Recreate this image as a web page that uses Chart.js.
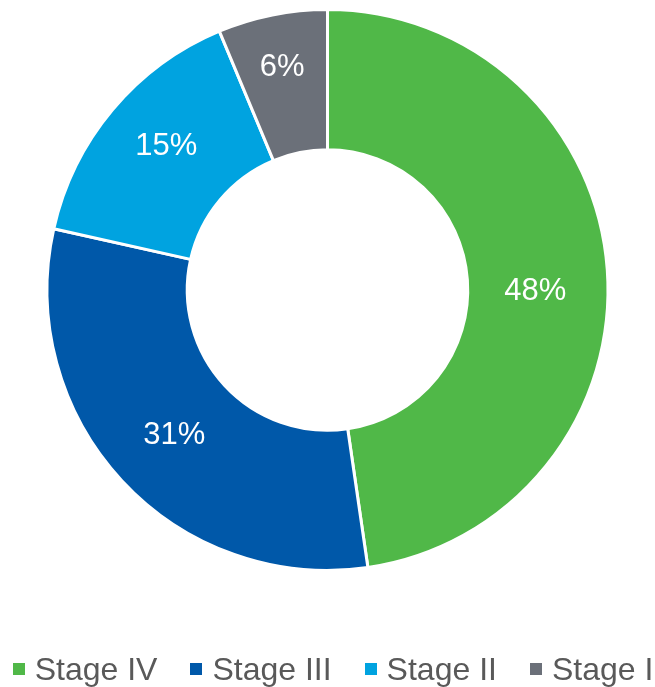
<!DOCTYPE html>
<html>
<head>
<meta charset="utf-8">
<script src="https://cdn.jsdelivr.net/npm/chart.js@4/dist/chart.umd.min.js"></script>
<style>
    body { margin: 0; background: #fff; }
    #wrap { position: relative; width: 655px; height: 687px; }
    #legend {
        position: absolute; left: 0; top: 651px; width: 655px; box-sizing: border-box; padding-left: 11px;
        display: flex; justify-content: center; align-items: center; gap: 33px;
        font-family: "Liberation Sans", Arial, sans-serif; font-size: 32px; line-height: 36px;
        color: #595959; white-space: nowrap;
    }
    .legend-item { display: flex; align-items: center; }
    .legend-box { width: 12px; height: 12px; margin-right: 10px; }
</style>
</head>
<body>
<div id="wrap">
    <canvas id="stageChart"></canvas>
    <div id="legend"></div>
</div>
<script>
const stages = ['Stage IV', 'Stage III', 'Stage II', 'Stage I'];
const shares = [47.7, 30.8, 15.2, 6.3];
const stageColors = ['#50B848', '#0058A9', '#00A3E0', '#6B7079'];

// white percentage labels inside each slice, nudged a little like the original
const sliceLabels = {
    id: 'sliceLabels',
    afterDatasetsDraw(chart, args, opts) {
        const ctx = chart.ctx;
        const meta = chart.getDatasetMeta(0);
        ctx.save();
        ctx.fillStyle = '#ffffff';
        ctx.font = '31px "Liberation Sans", Arial, sans-serif';
        ctx.textAlign = 'center';
        ctx.textBaseline = 'middle';
        meta.data.forEach((arc, i) => {
            const pos = arc.tooltipPosition();
            const nudge = opts.nudges[i] || [0, 0];
            ctx.fillText(Math.round(shares[i]) + '%', pos.x + nudge[0], pos.y + nudge[1]);
        });
        ctx.restore();
    }
};

const ctx = document.getElementById('stageChart').getContext('2d');
new Chart(ctx, {
    type: 'doughnut',
    data: {
        labels: stages,
        datasets: [{
            data: shares,
            backgroundColor: stageColors,
            borderColor: '#ffffff',
            borderWidth: 3
        }]
    },
    options: {
        responsive: true,
        maintainAspectRatio: false,
        animation: false,
        cutout: '50%',
        layout: { padding: { top: 8, bottom: 115 } },
        plugins: {
            legend: { display: false },
            tooltip: { enabled: false },
            sliceLabels: { nudges: [[-2, 17], [1, 2], [0, -8], [-4, -16]] }
        }
    },
    plugins: [sliceLabels]
});

const legendEl = document.getElementById('legend');
stages.forEach((stage, i) => {
    const item = document.createElement('div');
    item.className = 'legend-item';
    item.innerHTML = `<span class="legend-box" style="background:${stageColors[i]}"></span><span>${stage}</span>`;
    legendEl.appendChild(item);
});
</script>
</body>
</html>
